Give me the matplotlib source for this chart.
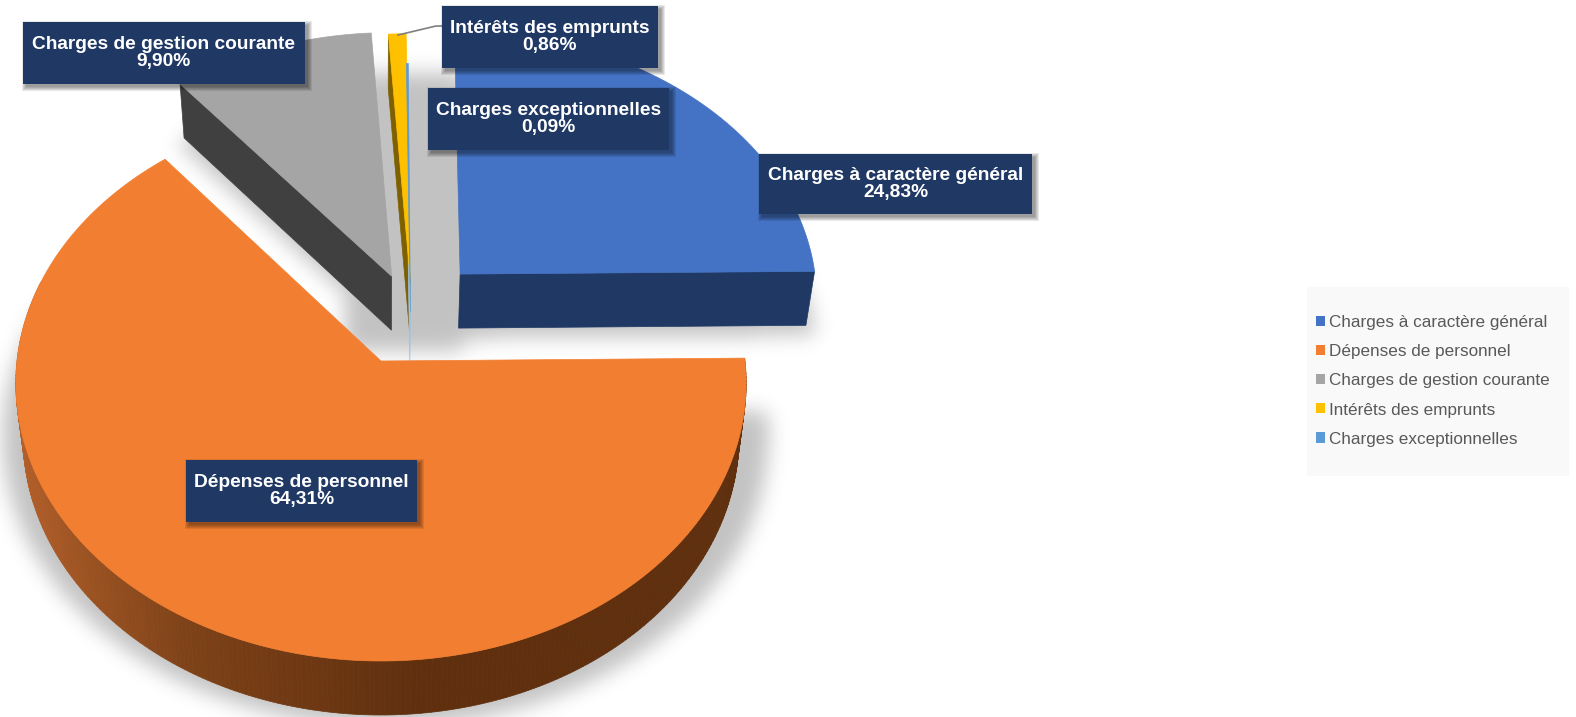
#!/usr/bin/python

import numpy as np
import matplotlib
matplotlib.use("Agg")
import matplotlib.pyplot as plt
from matplotlib import font_manager
from matplotlib.patches import Patch, Rectangle
from matplotlib.path import Path
from matplotlib.colors import to_rgb

categories = ["Charges à caractère général", "Dépenses de personnel",
              "Charges de gestion courante", "Intérêts des emprunts",
              "Charges exceptionnelles"]
values = [24.83, 64.31, 9.90, 0.86, 0.09]

colors = ["#4472C4", "#F27F31", "#A5A5A5", "#FFC000", "#5B9BD5"]
side_colors = ["#1F3864", "#63320F", "#404040", "#7F6000", "#9DC3E6"]
offsets = [(0.223, 0.323), (0, 0), (0.03, 0.315), (0.082, 0.31), (0.082, 0.18)]
boxes = [(759, 154, 1032, 214), (186, 460, 417, 522), (23, 22, 305, 84),
         (442, 6, 658, 68), (428, 88, 669, 150)]

W, H = 1576, 717
CX, CY, SX, SY, K = 381, 361, 364, 276, 0.08
DEPTH = 54

installed = {f.name for f in font_manager.fontManager.ttflist}
if "Liberation Sans Narrow" in installed:
    FONT, label_size, legend_size, spacing = "Liberation Sans Narrow", 17, 15, 0.85
else:
    FONT, label_size, legend_size, spacing = "Liberation Sans", 13.8, 12.3, 1.0


def project(u, v, low=False):
    w = 1 + K * v
    x = SX * u / w
    y = SY * v / w
    if low:
        return CX + 0.98 * x, CY - y + DEPTH
    return CX + x, CY - y


def slice_outline(a1, a2, off, low=False):
    t = np.radians(np.linspace(a1, a2, 200))
    u = np.r_[off[0], np.cos(t) + off[0]]
    v = np.r_[off[1], np.sin(t) + off[1]]
    return project(u, v, low)


def extrude(ax, u, v, color):
    x1, y1 = project(np.asarray(u, float), np.asarray(v, float))
    x2, y2 = project(np.asarray(u, float), np.asarray(v, float), True)
    ax.fill(np.r_[x1, x2[::-1]], np.r_[y1, y2[::-1]], color=color, lw=0.5, zorder=3)


def cut_face(ax, angle, off, color):
    t = np.radians(angle)
    extrude(ax, [off[0], np.cos(t) + off[0]], [off[1], np.sin(t) + off[1]], color)


def blur(img, sigma):
    fy = np.fft.fftfreq(img.shape[0])[:, None]
    fx = np.fft.rfftfreq(img.shape[1])[None, :]
    g = np.exp(-2 * (np.pi * sigma) ** 2 * (fx ** 2 + fy ** 2))
    return np.fft.irfft2(np.fft.rfft2(img) * g, s=img.shape)


fig = plt.figure(figsize=(W / 100, H / 100), dpi=100)
ax = fig.add_axes([0, 0, 1, 1])

cum = np.r_[0, np.cumsum(values)] / sum(values)
starts = 90 - 360 * cum[:-1]
ends = 90 - 360 * cum[1:]

# soft shadow under the whole pie
gx, gy = np.meshgrid(np.arange(-60, 1000, 2), np.arange(-60, 800, 2))
grid = np.c_[gx.ravel(), gy.ravel()]
mask = np.zeros(gx.shape)
for a1, a2, off in zip(starts, ends, offsets):
    x, y = slice_outline(a1, a2, off, True)
    mid_x, mid_y = x.mean(), y.mean()
    x = mid_x + (x - mid_x) * 1.07
    y = mid_y + (y - mid_y) * 1.04 + 4
    inside = Path(np.c_[x, y]).contains_points(grid).reshape(gx.shape)
    mask = np.maximum(mask, inside)
gap = Path([(345, 72), (462, 72), (462, 350), (345, 350)])
mask = np.maximum(mask, gap.contains_points(grid).reshape(gx.shape))
soft = np.clip(blur(mask, 5), 0, 1) * 0.24
rgba = np.zeros(gx.shape + (4,))
rgba[..., 3] = soft
ax.imshow(rgba, extent=(-61, 999, 799, -61), interpolation="bilinear", aspect="auto", zorder=1)

# back slices first, the big front slice last
for i in [2, 3, 4, 0, 1]:
    a1, a2, off = starts[i], ends[i], offsets[i]
    if i == 1:
        # curved front side with its left to right gradient
        t = np.radians(np.linspace(a1, -197, 260))
        u, v = np.cos(t), np.sin(t)
        low = np.array(to_rgb("#B5602A"))
        mid = np.array(to_rgb("#7E4218"))
        dark = np.array(to_rgb("#5F2F0E"))
        for j in range(len(t) - 1):
            um = (u[j] + u[j + 1]) / 2
            c = [np.interp(um, [-1, -0.5, 0.1, 1], [low[k], mid[k], dark[k], dark[k]]) for k in range(3)]
            extrude(ax, u[j:j + 2], v[j:j + 2], c)
    elif i == 0:
        cut_face(ax, a2, off, side_colors[i])
    else:
        cut_face(ax, a1, off, side_colors[i])
    x, y = slice_outline(a1, a2, off)
    ax.fill(x, y, color=colors[i], lw=0.5, zorder=4)

# leader line of the small slice
ax.plot([398, 436, 442], [35, 26, 26], color="#7F7F7F", lw=1.2, zorder=5)

# data labels
for name, val, box in zip(categories, values, boxes):
    x0, y0, x1, y1 = box
    for grow in [4, 3, 2, 1, 0]:
        ax.add_patch(Rectangle((x0 + 3 - grow, y0 + 3 - grow), x1 - x0 + 2 * grow, y1 - y0 + 2 * grow,
                               facecolor="black", edgecolor="none", alpha=0.09, zorder=6))
    ax.add_patch(Rectangle((x0, y0), x1 - x0, y1 - y0, facecolor="#1F3864", edgecolor="none", zorder=6))
    txt = name + "\n" + f"{val:.2f}".replace(".", ",") + "%"
    ax.text((x0 + x1) / 2, (y0 + y1) / 2, txt, color="white", fontsize=label_size, fontweight="bold", family=FONT,
            ha="center", va="center", linespacing=spacing, zorder=7)

# legend panel is wider than its entries
ax.add_patch(Rectangle((1307, 287), 262, 189, facecolor="#F9F9F9", edgecolor="none", zorder=2))
handles = [Patch(facecolor=c, edgecolor="none") for c in colors]
leg = ax.legend(handles, categories, loc="center left", bbox_to_anchor=(1307, 381), bbox_transform=ax.transData,
                frameon=False, prop={"family": FONT, "size": legend_size}, labelcolor="#595959",
                handlelength=0.53, handleheight=0.53, handletextpad=0.28, labelspacing=0.82,
                borderpad=0.5, borderaxespad=0)
leg.set_zorder(8)

ax.set_xlim(0, W)
ax.set_ylim(H, 0)
ax.axis("off")
fig.savefig("out.png", dpi=100, facecolor="white")
